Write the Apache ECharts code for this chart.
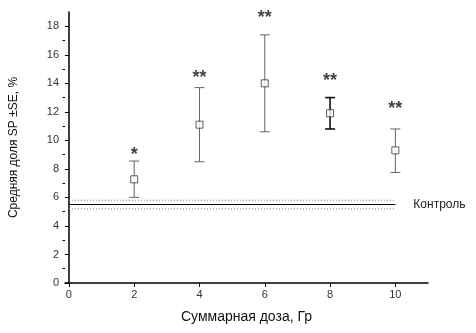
<!DOCTYPE html>
<html>
<head>
<meta charset="utf-8">
<script src="https://cdn.jsdelivr.net/npm/echarts@6/dist/echarts.min.js"></script>
<style>
	html, body { margin: 0; padding: 0; background: #fff; }
	#chart { width: 476px; height: 333px; }
</style>
</head>
<body>
<div id="chart"></div>
<script>
	// дозы и средние значения
	var doses = [2, 4, 6, 8, 10];
	var means = [7.27, 11.1, 14.0, 11.9, 9.3];
	var upper = [8.55, 13.7, 17.4, 13.0, 10.8];
	var lower = [6.0, 8.5, 10.6, 10.8, 7.75];
	var stars = ['*', '**', '**', '**', '**'];
	var starLevels = [9.3, 14.75, 18.9, 14.5, 12.55];

	// контроль
	var controlMean = 5.5;
	var controlHigh = 5.8;
	var controlLow = 5.2;
	var controlRange = [0, 10];

	var xTicks = [0, 2, 4, 6, 8, 10];
	var yTicks = [0, 2, 4, 6, 8, 10, 12, 14, 16, 18];
	var yMinorTicks = [1, 3, 5, 7, 9, 11, 13, 15, 17];

	var font = 'Arial, "Liberation Sans", sans-serif';
	var chart = echarts.init(document.getElementById('chart'));

	function hLine(y) {
		return controlRange.map(function (x) { return [x, y]; });
	}

	var option = {
		animation: false,
		grid: { left: 63, right: 48, top: 12, bottom: 50 },
		xAxis: {
			type: 'value',
			min: -0.12,
			max: 11,
			name: 'Суммарная доза, Гр',
			nameLocation: 'middle',
			nameGap: 27,
			nameTextStyle: { fontFamily: font, fontSize: 14, color: '#111' },
			axisLine: { show: true, lineStyle: { color: '#000', width: 1.5 } },
			axisTick: { show: true, length: 4, customValues: xTicks, lineStyle: { color: '#000' } },
			axisLabel: { customValues: xTicks, fontFamily: font, fontSize: 11, color: '#333', margin: 6 },
			splitLine: { show: false }
		},
		yAxis: [{
			type: 'value',
			min: 0,
			max: 19,
			name: 'Средняя доля SP ±SE, %',
			nameLocation: 'middle',
			nameGap: 45,
			nameTextStyle: { fontFamily: font, fontSize: 12, color: '#111' },
			axisLine: { show: true, lineStyle: { color: '#000', width: 1.5 } },
			axisTick: { show: true, length: 4, customValues: yTicks, lineStyle: { color: '#000' } },
			axisLabel: { customValues: yTicks, fontFamily: font, fontSize: 11, color: '#333', margin: 6 },
			splitLine: { show: false }
		}, {
			type: 'value',
			position: 'left',
			min: 0,
			max: 19,
			axisLine: { show: false },
			axisTick: { show: true, length: 2.5, customValues: yMinorTicks, lineStyle: { color: '#000' } },
			axisLabel: { show: false },
			splitLine: { show: false }
		}],
		series: [{
			type: 'line',
			data: hLine(controlHigh),
			symbol: 'none',
			silent: true,
			lineStyle: { color: '#777', width: 1, type: [1, 2] }
		}, {
			type: 'line',
			data: hLine(controlLow),
			symbol: 'none',
			silent: true,
			lineStyle: { color: '#777', width: 1, type: [1, 2] }
		}, {
			type: 'line',
			data: hLine(controlMean),
			symbol: 'none',
			silent: true,
			lineStyle: { color: '#000', width: 1 },
			endLabel: {
				show: true,
				distance: 18,
				fontFamily: font,
				fontSize: 12,
				color: '#222',
				formatter: 'Контроль'
			}
		}, {
			type: 'custom',
			data: doses.map(function (d, i) { return [d, lower[i], upper[i]]; }),
			renderItem: function (params, api) {
				var lo = api.coord([api.value(0), api.value(1)]);
				var hi = api.coord([api.value(0), api.value(2)]);
				var w = 5;
				var c = params.dataIndex === 3 ? '#111' : '#666';
				var lw = params.dataIndex === 3 ? 1.6 : 1;
				var st = { stroke: c, lineWidth: lw };
				return {
					type: 'group',
					children: [
						{ type: 'line', shape: { x1: lo[0], y1: lo[1], x2: hi[0], y2: hi[1] }, style: st },
						{ type: 'line', shape: { x1: hi[0] - w, y1: hi[1], x2: hi[0] + w, y2: hi[1] }, style: st },
						{ type: 'line', shape: { x1: lo[0] - w, y1: lo[1], x2: lo[0] + w, y2: lo[1] }, style: st }
					]
				};
			},
			z: 3
		}, {
			type: 'scatter',
			data: doses.map(function (d, i) { return [d, means[i]]; }),
			symbol: 'rect',
			symbolSize: 7,
			itemStyle: { color: '#fff', borderColor: '#333', borderWidth: 1 },
			z: 4
		}, {
			type: 'scatter',
			data: doses.map(function (d, i) { return [d, starLevels[i]]; }),
			symbolSize: 0,
			label: {
				show: true,
				position: 'inside',
				fontFamily: font,
				fontSize: 18,
				fontWeight: 'bold',
				color: '#111',
				offset: [0, 5],
				formatter: function (p) { return stars[p.dataIndex]; }
			}
		}]
	};

	chart.setOption(option);
</script>
</body>
</html>
